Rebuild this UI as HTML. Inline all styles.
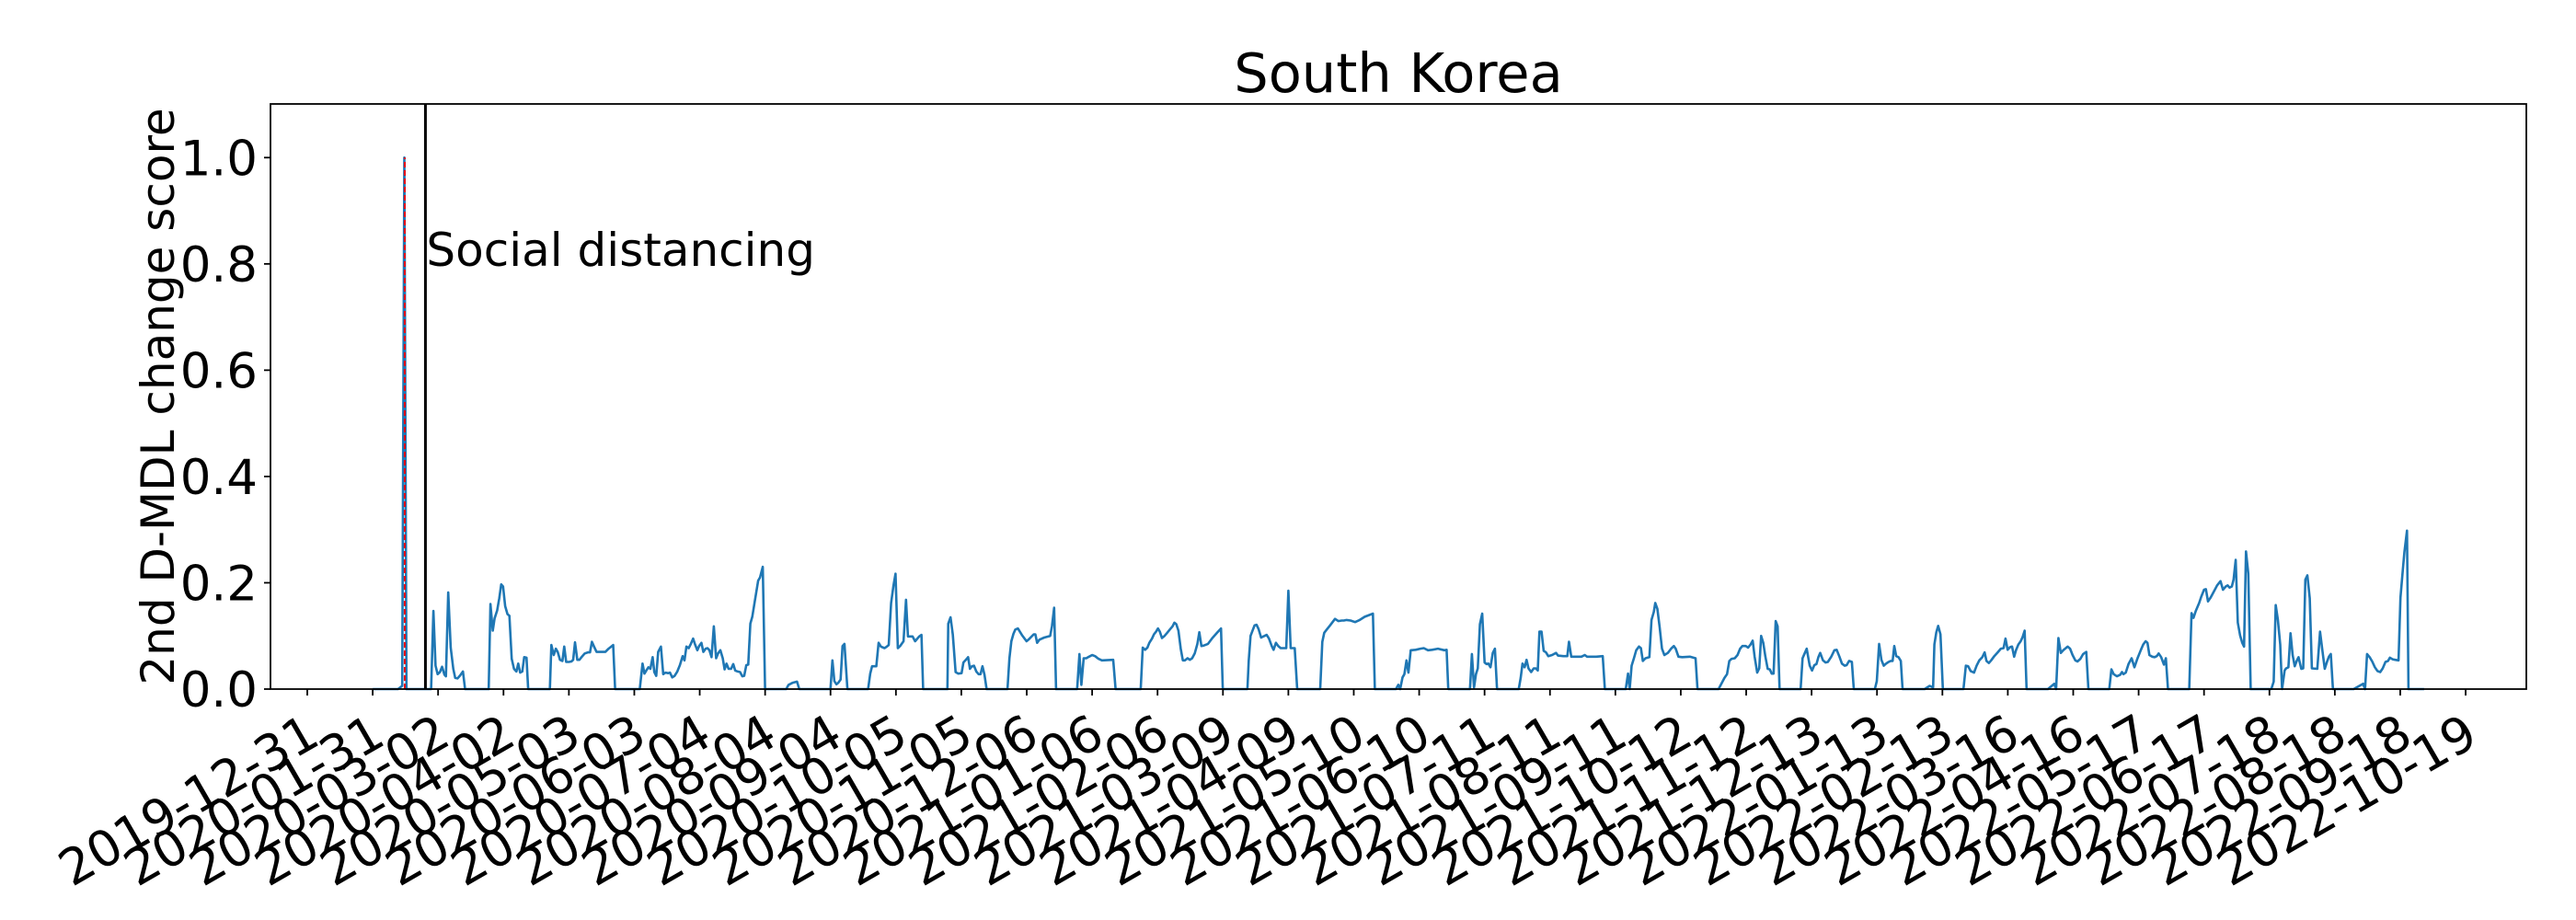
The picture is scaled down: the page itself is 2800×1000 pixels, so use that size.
<!DOCTYPE html>
<html><head><meta charset="utf-8"><style>
html,body{margin:0;padding:0;background:#fff;}
svg{display:block;font-family:"DejaVu Sans","Liberation Sans",sans-serif;}
</style></head><body>
<svg id="chart" width="2800" height="1000" viewBox="0 0 2800 1000" xmlns="http://www.w3.org/2000/svg">
<rect width="2800" height="1000" fill="#fff"/>
<g id="marks"></g>
<g id="axes"></g>
</svg>
<script>
// days since 2019-12-31
const dayIndex = [31,43,45,46,47,58.7,59.8,60.8,61.8,62.9,63.9,65,65.7,66.8,68,69.2,70.1,71.2,72.3,73.8,74.8,86,86.8,87.9,88.8,90,91,91.9,92.8,93.8,94.9,95.8,96.9,98,99.1,100,100.9,101.9,102.8,103.9,104.7,115,115.7,116.8,117.8,118.7,119.8,120.9,121.8,122.7,124,125.2,126,126.9,128,129,130.4,131.5,133,134,134.9,135.8,137.1,141.3,142.8,145,145.9,157.6,158.9,159.8,160.7,161.7,162.6,163.7,164.5,165.4,166.3,167.6,168.7,169.8,171,171.9,173,174.1,175.4,176.6,177.9,178.8,179.7,180.8,181.8,182.9,183.8,184.9,185.7,186.8,187.7,188.8,189.7,190.6,191.6,192.7,193.8,194.7,195.8,196.9,197.8,198.7,199.7,200.9,201.9,202.8,204,205.1,206.2,207.1,208.1,209,210,210.9,212.1,213.7,214.6,215.9,217,227,228.1,230.1,232.1,233.2,248,248.9,249.8,250.8,251.7,252.8,253.7,254.6,256,265.8,266.8,267.7,269.7,270.8,271.9,273.6,274.7,275.6,276.7,277.8,278.8,279.9,281,282.6,283.8,284.7,286.9,288.1,290,291.1,291.9,303.4,303.8,304.9,306,307.3,308.5,310.1,311,311.9,313.2,314.1,315,316,317.1,318.2,319.1,320,321,322,331.9,332.8,333.7,334.7,335.6,336.8,338.7,340.9,342.1,344.3,345.1,345.9,347,349.3,352.1,353,354,354.9,364.9,366,366.9,368,369.2,370.5,372,373.4,375,376.6,382,383.1,395,396,397.1,398.2,399.1,400.4,401.3,402.3,403.2,404.1,405.1,406.3,407.6,408.8,410.1,411,411.9,412.9,414,415,416,417.2,418.3,419.4,420.6,421.9,422.8,423.8,425,426.9,429,431.2,433.1,433.9,445.6,446.2,447.1,448.2,449,449.9,450.9,452.1,453.7,454.7,455.8,457.1,458,459.1,460.2,461.4,464,465,466.1,468,469.2,480.1,481.1,482,483.2,484.8,487.1,488.7,490.3,491.3,492.6,494.5,496.6,498.8,501.2,505.1,506,516,517.1,518,519.1,520,521,521.9,523,525.3,527.6,529.2,531.2,533.1,535.9,539,540,540.8,551.1,552,553,553.9,554.8,555.8,556.9,558,558.9,559.8,560.8,561.9,562.9,563.9,574.2,575.1,576,577,577.9,578.8,580.1,581.3,582.3,583.2,584,585,586,587.1,588.2,590,591.9,592.8,595.3,597.2,598,599.1,600.8,603.9,605.5,606.6,610.9,614,615,624.9,626,626.8,627.7,628.8,629.9,631.2,632.1,633,634.3,636.1,637.1,638.2,638.9,639.9,641,642.1,643.2,644.9,646.4,647.7,648.6,649.9,651.7,655.3,658,658.9,668.9,671.7,672.9,674,675.1,676.6,677.9,679.1,680.2,681.8,682.9,684.1,685.1,686,687.2,688.2,689.1,690.1,691.1,692.2,693.2,694.1,695,696,696.9,697.8,707.8,708.7,709.8,710.7,712.1,713.2,714.3,715.3,716.2,717.1,718.4,719.6,720.7,722.3,723.8,724.9,726.2,727.4,728.7,729.6,730.8,732.1,733,743,743.9,745,746.1,747.2,748.3,749.5,750.5,751.4,752.2,753.1,754.2,755.3,756.1,766.6,769,770.6,771.2,772.1,773,774.1,775.2,785,786.1,787.2,788.4,790,791.2,792.5,793.9,795,795.9,797,798.1,799.6,801.2,802.7,804,804.9,805.9,807.1,808,809,809.9,811,812.1,813,814,814.9,825,828,828.9,830,831.1,832.3,834.4,835.5,836.7,838,839,840.4,841.7,843.2,844.2,854.1,855.1,856.2,857.7,859.3,860.1,860.8,861.9,863.2,864.7,866,867.5,869.1,870.2,871.3,872.2,873.1,874.4,875.6,876.6,877.5,878.7,880,880.9,881.9,892,893.1,894,895.1,896.7,897.7,899,899.9,900.9,902.1,903.7,905.2,906.8,908,909.3,910.2,911.1,912.2,913,914,915,916.1,917.1,918,918.9,920,921.1,930.9,932,933,934,935.1,936,937.2,937.9,939,940,941,942,942.9,943.8,945.1,946,947,948,949.1,950.1,952.7,954,955.1,956.2,957.2,958.2,959.1,960.1,969.9,974.4,975.3,976.3,977.5,978.7,980,981.2,982.5,983.7,985,986.2,987.1,988.4,989.6,991.2,992.1,993.2,994,995.2,995.9,1003.3];
const scoreValues = [0,0,0.006,1.0,0,0,0.147,0.044,0.028,0.032,0.042,0.027,0.024,0.182,0.078,0.038,0.021,0.020,0.025,0.033,0,0,0.160,0.110,0.133,0.148,0.171,0.197,0.193,0.156,0.141,0.138,0.057,0.038,0.033,0.048,0.031,0.033,0.060,0.059,0,0,0.083,0.064,0.076,0.070,0.055,0.053,0.080,0.051,0.051,0.052,0.055,0.088,0.055,0.055,0.062,0.067,0.069,0.069,0.089,0.081,0.070,0.070,0.076,0.083,0,0,0.048,0.029,0.035,0.041,0.038,0.060,0.032,0.025,0.070,0.080,0.028,0.031,0.030,0.031,0.022,0.025,0.033,0.045,0.062,0.054,0.080,0.077,0.085,0.095,0.084,0.073,0.081,0.087,0.070,0.076,0.077,0.073,0.060,0.118,0.058,0.067,0.073,0.058,0.037,0.048,0.038,0.038,0.047,0.035,0.033,0.032,0.024,0.025,0.045,0.046,0.123,0.136,0.165,0.204,0.210,0.230,0,0,0.008,0.012,0.014,0,0,0.054,0.015,0.009,0.012,0.018,0.081,0.085,0,0,0.029,0.043,0.043,0.087,0.080,0.077,0.080,0.083,0.162,0.194,0.217,0.077,0.081,0.090,0.168,0.099,0.099,0.090,0.099,0.102,0,0,0.123,0.135,0.102,0.032,0.029,0.030,0.050,0.054,0.060,0.038,0.043,0.044,0.033,0.028,0.028,0.043,0.027,0,0,0.058,0.090,0.104,0.112,0.114,0.102,0.090,0.094,0.103,0.103,0.087,0.093,0.097,0.100,0.119,0.153,0,0,0.066,0.008,0.058,0.058,0.061,0.064,0.062,0.057,0.054,0.055,0,0,0.078,0.074,0.078,0.087,0.095,0.103,0.108,0.114,0.108,0.096,0.100,0.106,0.112,0.118,0.125,0.122,0.110,0.076,0.054,0.054,0.058,0.055,0.058,0.067,0.085,0.107,0.081,0.082,0.085,0.096,0.106,0.114,0,0,0.053,0.100,0.112,0.120,0.121,0.113,0.097,0.100,0.102,0.095,0.081,0.074,0.087,0.081,0.077,0.077,0.185,0.077,0.077,0,0,0.089,0.106,0.112,0.120,0.132,0.128,0.129,0.129,0.130,0.129,0.126,0.130,0.136,0.142,0,0,0.008,0,0.022,0.028,0.054,0.031,0.073,0.074,0.076,0.077,0.073,0.074,0.076,0.073,0.074,0,0,0.066,0.003,0.028,0.039,0.122,0.142,0.050,0.047,0.048,0.041,0.068,0.076,0,0,0.021,0.048,0.041,0.055,0.039,0.032,0.039,0.039,0.035,0.108,0.108,0.072,0.069,0.062,0.064,0.068,0.063,0.062,0.062,0.089,0.061,0.061,0.061,0.064,0.061,0.061,0.062,0,0,0.029,0,0.044,0.058,0.073,0.080,0.077,0.053,0.058,0.060,0.130,0.145,0.162,0.151,0.116,0.076,0.064,0.068,0.076,0.081,0.076,0.061,0.060,0.061,0.058,0,0,0.021,0.028,0.053,0.057,0.058,0.064,0.076,0.081,0.081,0.078,0.084,0.091,0.061,0.031,0.039,0.100,0.087,0.061,0.038,0.037,0.029,0.029,0.128,0.118,0,0,0.058,0.068,0.076,0.044,0.035,0.045,0.047,0.060,0.068,0.054,0.050,0.051,0.061,0.073,0.074,0.061,0.048,0.044,0.045,0.053,0.051,0,0,0.015,0.085,0.055,0.044,0.048,0.051,0.053,0.053,0.081,0.062,0.060,0.053,0,0,0.006,0.003,0.084,0.107,0.119,0.103,0,0,0.044,0.043,0.034,0.031,0.044,0.054,0.060,0.069,0.053,0.049,0.054,0.062,0.069,0.076,0.077,0.095,0.074,0.079,0.080,0.061,0.073,0.084,0.090,0.098,0.110,0,0,0.010,0,0.096,0.068,0.073,0.080,0.076,0.064,0.054,0.052,0.057,0.066,0.070,0,0,0.037,0.028,0.024,0.027,0.032,0.028,0.031,0.047,0.058,0.041,0.058,0.074,0.084,0.090,0.087,0.064,0.061,0.060,0.062,0.067,0.060,0.046,0.058,0,0,0.143,0.134,0.147,0.162,0.174,0.187,0.188,0.165,0.172,0.184,0.195,0.203,0.187,0.193,0.195,0.191,0.193,0.206,0.243,0.125,0.101,0.087,0.080,0.259,0.217,0,0,0.014,0.158,0.131,0.084,0,0.035,0.039,0.041,0.105,0.064,0.043,0.053,0.060,0.038,0.039,0.206,0.214,0.171,0.039,0.038,0.108,0.073,0.038,0.050,0.061,0.066,0,0,0.010,0,0.066,0.060,0.052,0.041,0.034,0.032,0.039,0.051,0.053,0.059,0.056,0.055,0.054,0.172,0.223,0.258,0.298,0,0];
const tickLabels = ["2019-12-31","2020-01-31","2020-03-02","2020-04-02","2020-05-03","2020-06-03","2020-07-04","2020-08-04","2020-09-04","2020-10-05","2020-11-05","2020-12-06","2021-01-06","2021-02-06","2021-03-09","2021-04-09","2021-05-10","2021-06-10","2021-07-11","2021-08-11","2021-09-11","2021-10-12","2021-11-12","2021-12-13","2022-01-13","2022-02-13","2022-03-16","2022-04-16","2022-05-17","2022-06-17","2022-07-18","2022-08-18","2022-09-18","2022-10-19"];
const yTicks = [0.0,0.2,0.4,0.6,0.8,1.0];
const eventDays = [56];
const eventLabels = ["Social distancing"];
const changePointDays = [46.2];

const L=294, R=2746, T=113, B=749;
const X0=334, PXD=2.2933;
function xs(d){return X0 + d*PXD;}
function ys(v){return B - v*577.7;}
function dayOf(s){const base=Date.UTC(2019,11,31);const p=s.split('-');return (Date.UTC(+p[0],+p[1]-1,+p[2])-base)/86400000;}

const NS="http://www.w3.org/2000/svg";
const marks=document.getElementById('marks'), axes=document.getElementById('axes');
function mk(tag,attrs,parent){const e=document.createElementNS(NS,tag);for(const k in attrs)e.setAttribute(k,attrs[k]);parent.appendChild(e);return e;}

let d='';
for(let i=0;i<dayIndex.length;i++){d+=(i?'L':'M')+xs(dayIndex[i]).toFixed(1)+' '+ys(scoreValues[i]).toFixed(1);}
const line=mk('path',{d:d,fill:'none',stroke:'#1f77b4','stroke-width':2.6,'stroke-linejoin':'round'},marks);



changePointDays.forEach(cd=>{
  const l=mk('line',{x1:xs(cd),x2:xs(cd),y1:ys(0),y2:ys(1),stroke:'#e8000b','stroke-width':2,'stroke-dasharray':'6,3'},marks);
  
  
});
eventDays.forEach((ed,i)=>{
  const l=mk('line',{x1:xs(ed),x2:xs(ed),y1:T,y2:B,stroke:'#000','stroke-width':3},marks);
  
  
  const t=mk('text',{x:xs(ed)+1,y:289,'font-size':50,fill:'#000'},marks);
  t.textContent=eventLabels[i];
  
  
});

const fr=mk('rect',{x:L,y:T,width:R-L,height:B-T,fill:'none',stroke:'#000','stroke-width':1.8},axes);



yTicks.forEach(v=>{
  mk('line',{x1:L-7,x2:L,y1:ys(v),y2:ys(v),stroke:'#000','stroke-width':1.8},axes);
  const t=mk('text',{x:L-14,y:ys(v)+19,'font-size':53,'text-anchor':'end',fill:'#000'},axes);
  t.textContent=v.toFixed(1);
  
  
});
tickLabels.forEach(s=>{
  const x=xs(dayOf(s));
  mk('line',{x1:x,x2:x,y1:B,y2:B+7,stroke:'#000','stroke-width':1.8},axes);
  const ty=B+24, tx=x-4;
  const t=mk('text',{x:tx,y:ty,'font-size':54,'text-anchor':'end','dominant-baseline':'hanging',transform:`rotate(-30 ${tx} ${ty})`,fill:'#000'},axes);
  t.textContent=s;
  
  
});
const yl=mk('text',{x:0,y:0,'font-size':50,'text-anchor':'middle',transform:`translate(189 ${(T+B)/2}) rotate(-90)`,fill:'#000'},axes);
yl.textContent='2nd D-MDL change score';


const ti=mk('text',{x:(L+R)/2,y:100,'font-size':59,'text-anchor':'middle',fill:'#000'},axes);
ti.textContent='South Korea';


</script>
</body></html>
